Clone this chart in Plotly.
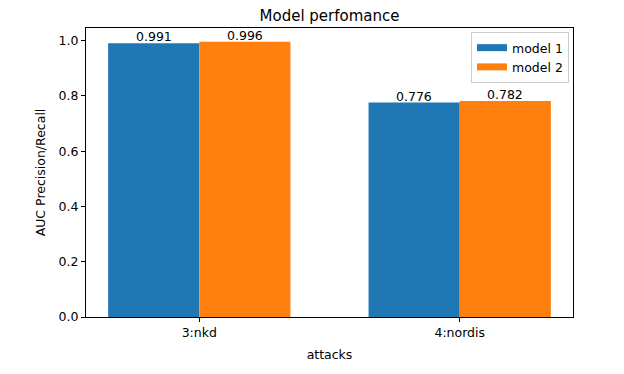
import plotly.graph_objects as go

categories = ["3:nkd", "4:nordis"]
model1 = [0.991, 0.776]
model2 = [0.996, 0.782]
series_names = ["model 1", "model 2"]
colors = ["#1f77b4", "#ff7f0e"]
yticks = [0.0, 0.2, 0.4, 0.6, 0.8, 1.0]

FONT = "DejaVu Sans"
pos = list(range(len(categories)))
bw = 0.35

fig = go.Figure()
annotations = []
for vals, name, col, off in [(model1, series_names[0], colors[0], -bw),
                             (model2, series_names[1], colors[1], 0.0)]:
    fig.add_trace(go.Bar(
        x=pos, y=vals, width=bw, offset=off, marker=dict(color=col, line=dict(width=0)),
        showlegend=False, name=name))
    fig.add_trace(go.Scatter(x=[None], y=[None], mode="lines", name=name,
                             line=dict(color=col, width=7)))
    for p, v in zip(pos, vals):
        annotations.append(dict(x=p + off + bw / 2, y=v, xref="x", yref="y",
                                text=f"{v:.3f}", showarrow=False, yanchor="bottom",
                                yshift=-3, font=dict(family=FONT, size=12.5, color="black")))

fig.update_layout(
    width=624, height=374,
    margin=dict(l=86, r=51, t=28, b=57),
    paper_bgcolor="white", plot_bgcolor="white",
    font=dict(family=FONT, size=12.5, color="black"),
    barmode="overlay",
    annotations=annotations,
    title=dict(text="Model perfomance", x=(86 + 573) / 2 / 624, xanchor="center",
               y=1 - 21 / 374, yanchor="bottom", font=dict(size=15, color="black")),
    legend=dict(x=(569 - 86) / 487, xanchor="right", y=(317 - 32) / 289, yanchor="top",
                bordercolor="#cccccc", borderwidth=1, bgcolor="white",
                font=dict(size=12.5), itemwidth=30, tracegroupgap=0),
    xaxis=dict(range=[-0.435, 1.435], tickvals=pos, ticktext=categories,
               showline=True, linecolor="black", linewidth=1, mirror=True,
               ticks="outside", ticklen=4, tickcolor="black", showgrid=False, zeroline=False,
               title=dict(text="attacks", standoff=11, font=dict(size=12.5))),
    yaxis=dict(range=[0, 1.0458], tickvals=yticks, ticktext=[f"{t:.1f}" for t in yticks],
               showline=True, linecolor="black", linewidth=1, mirror=True,
               ticks="outside", ticklen=4, tickcolor="black", showgrid=False, zeroline=False,
               title=dict(text="AUC Precision/Recall", standoff=10, font=dict(size=12.5))),
)

fig.write_html("out.html", config={"displayModeBar": False},
               post_script="document.body.style.margin='0';")
